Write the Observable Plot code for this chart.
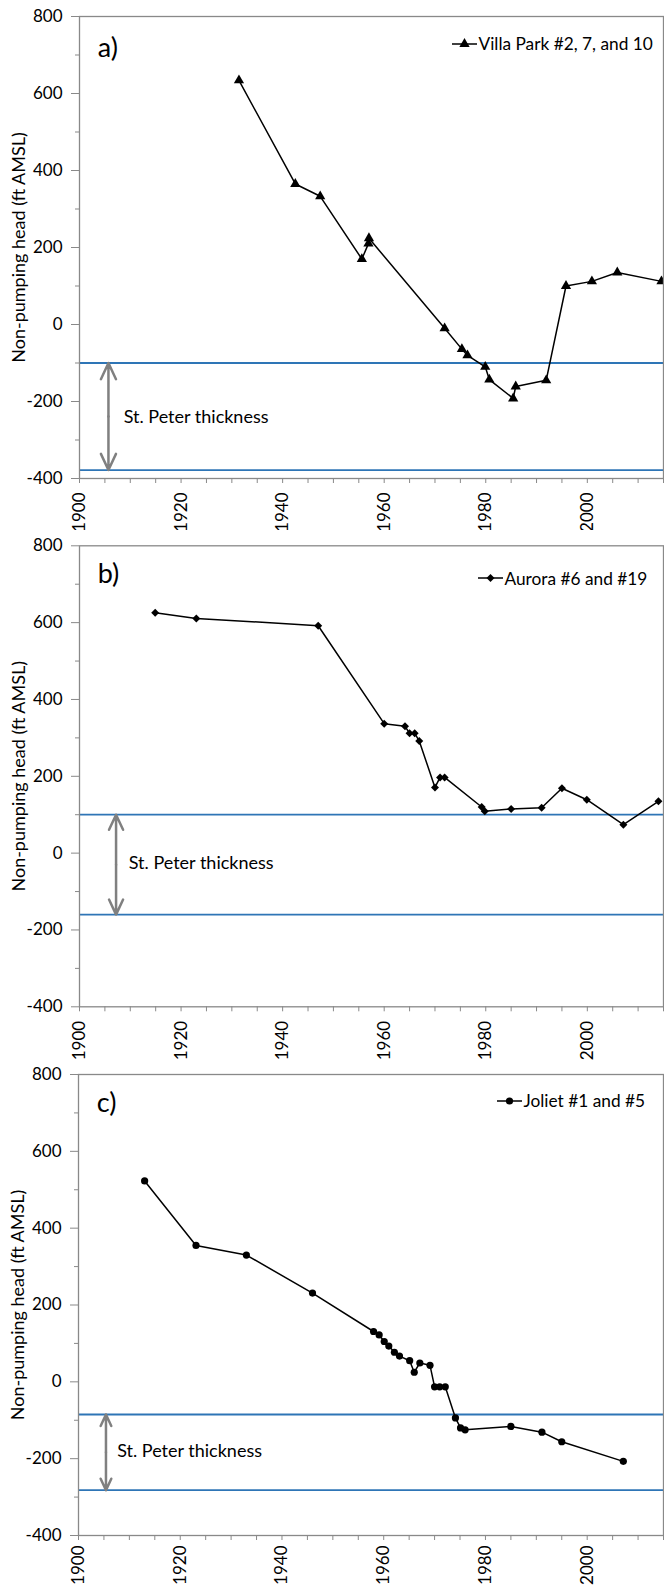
<!DOCTYPE html>
<html><head><meta charset="utf-8">
<script src="https://cdn.jsdelivr.net/npm/d3@7"></script>
<script src="https://cdn.jsdelivr.net/npm/@observablehq/plot@0.6"></script>
<style>
body{margin:0;background:#fff;font-family:Lato, "Open Sans", sans-serif;}
#wrap{width:664px;}
.panel{position:relative;width:664px;}
.panel svg{display:block;}
.legend{position:absolute;font-family:Lato, "Open Sans", sans-serif;font-size:17.3px;white-space:nowrap;line-height:1;display:flex;align-items:center;color:#000;}
.legend svg{display:inline-block;overflow:visible;}
</style></head><body><div id="wrap"></div>
<script>
// ---- data ----
const villaYear = [1931.4, 1942.5, 1947.4, 1955.6, 1956.9, 1957.0, 1971.9, 1975.3, 1976.4, 1979.9, 1980.7, 1985.4, 1985.9, 1991.9, 1995.8, 2000.9, 2005.9, 2014.6];
const villaHead = [634, 365, 333, 170, 210, 224, -10, -64, -80, -110, -143, -192, -161, -145, 100, 112, 135, 112];

const auroraYear = [1914.9, 1923.0, 1947.0, 1960.0, 1964.1, 1965.0, 1966.0, 1966.9, 1970.0, 1971.0, 1971.9, 1979.2, 1979.8, 1985.0, 1991.0, 1995.0, 1999.9, 2007.1, 2014.0];
const auroraHead = [626, 611, 592, 337, 330, 312, 312, 292, 171, 197, 197, 120, 109, 115, 118, 169, 139, 74, 135];

const jolietYear = [1913.0, 1923.1, 1933.0, 1946.0, 1958.0, 1959.1, 1960.1, 1961.0, 1962.1, 1963.1, 1965.1, 1966.0, 1967.1, 1969.1, 1970.0, 1971.0, 1972.1, 1974.1, 1975.1, 1976.0, 1985.0, 1991.1, 1995.0, 2007.1];
const jolietHead = [523, 355, 330, 231, 131, 122, 105, 93, 77, 67, 55, 25, 49, 43, -13, -13, -13, -94, -120, -125, -116, -131, -156, -207];

const seriesNames = ["Villa Park #2, 7, and 10", "Aurora #6 and #19", "Joliet #1 and #5"];
const panelLabels = ["a)", "b)", "c)"];
const stPeterTop = [-100, 100, -85];
const stPeterBottom = [-378, -160, -282];
const arrowYear = [1905.7, 1907.2, 1905.4];
const noteYear = [1908.7, 1909.7, 1907.6];
const noteHead = [-240, -26, -180];
const labelYear = [1903.6, 1903.6, 1903.6];
const labelHead = [716, 725, 724];
const yMajorTicks = [-400, -200, 0, 200, 400, 600, 800];
const yMinorTicks = [-300, -100, 100, 300, 500, 700];
const xMajorTicks = [1900, 1920, 1940, 1960, 1980, 2000];
const xMinorTicks = d3.range(1900, 2016, 5);

// ---- layout ----
const layouts = [
  {height: 530, marginTop: 16, marginBottom: 52, marginLeft: 79, legendX: 451.5, legendY: 44, symbol: "triangle", r: 3.8, xPad: 14},
  {height: 530, marginTop: 15.3, marginBottom: 53.7, marginLeft: 79, legendX: 477.5, legendY: 48.3, symbol: "diamond2", r: 3.6, xPad: 14},
  {height: 525, marginTop: 14, marginBottom: 50, marginLeft: 78, legendX: 496.5, legendY: 41, symbol: "circle", r: 3.6, xPad: 10}
];
const years = [villaYear, auroraYear, jolietYear];
const heads = [villaHead, auroraHead, jolietHead];
const symbols = {triangle: d3.symbolTriangle, diamond2: d3.symbolDiamond2, circle: d3.symbolCircle};

const GRAY = "#898989", BLUE = "#2E75B6";
const FONT = "Lato, 'Open Sans', sans-serif";
const wrap = document.getElementById("wrap");

layouts.forEach((L, i) => {
  const data = years[i].map((x, j) => ({year: x, head: heads[i][j]}));
  const top = stPeterTop[i], bot = stPeterBottom[i], mid = (top + bot) / 2;
  const chart = Plot.plot({
    width: 664, height: L.height,
    marginTop: L.marginTop, marginBottom: L.marginBottom, marginLeft: L.marginLeft, marginRight: 1,
    x: {domain: [1900, 2015]},
    y: {domain: [-400, 800]},
    style: {fontFamily: FONT, fontSize: "17px", background: "white", color: "black", overflow: "visible"},
    marks: [
      Plot.ruleY([top, bot], {stroke: BLUE, strokeWidth: 1.8}),
      Plot.arrow([{x: arrowYear[i], y1: mid, y2: top}, {x: arrowYear[i], y1: mid, y2: bot}],
        {x1: "x", x2: "x", y1: "y1", y2: "y2", stroke: "#808080", strokeWidth: 2.5, headLength: 11, headAngle: 50}),
      Plot.text([{x: noteYear[i], y: noteHead[i]}], {x: "x", y: "y", text: () => "St. Peter thickness", textAnchor: "start", lineAnchor: "middle", fontSize: 18, fill: "black"}),
      Plot.text([{x: labelYear[i], y: labelHead[i]}], {x: "x", y: "y", text: () => panelLabels[i], textAnchor: "start", lineAnchor: "middle", fontSize: 27, fill: "black"}),
      Plot.line(data, {x: "year", y: "head", stroke: "black", strokeWidth: 1.5}),
      Plot.dot(data, {x: "year", y: "head", symbol: L.symbol, r: L.r, fill: "black", stroke: "none"}),
      Plot.frame({stroke: GRAY, strokeWidth: 1.3}),
      Plot.axisY({ticks: yMajorTicks, tickSize: 8, tickPadding: 9, stroke: GRAY, fill: "black", fontSize: 17, label: null, tickFormat: d => String(d)}),
      Plot.axisY({ticks: yMinorTicks, tickSize: 4, stroke: GRAY, fill: "none", label: null}),
      Plot.axisX({ticks: xMinorTicks, tickSize: 5, stroke: GRAY, fill: "none", label: null}),
      Plot.axisX({ticks: xMajorTicks, tickSize: 0, tickPadding: L.xPad, tickRotate: -90, fill: "black", fontSize: 17, label: null, tickFormat: d => String(d)}),
      Plot.text(["Non-pumping head (ft AMSL)"], {frameAnchor: "left", text: d => d, rotate: -90, dx: -60.5, fontSize: 18, textAnchor: "middle", lineAnchor: "middle", fill: "black"})
    ]
  });
  const panel = document.createElement("div");
  panel.className = "panel";
  panel.style.height = L.height + "px";
  panel.appendChild(chart);

  // legend (line + marker + name)
  const lg = document.createElement("div");
  lg.className = "legend";
  lg.style.left = L.legendX + "px";
  lg.style.top = (L.legendY - 10) + "px";
  lg.style.height = "20px";
  const sym = d3.symbol(symbols[L.symbol], Math.PI * L.r * L.r)();
  lg.innerHTML = `<svg width="26" height="20" viewBox="0 0 26 20"><line x1="0" x2="25" y1="10" y2="10" stroke="black" stroke-width="1.5"/><path d="${sym}" transform="translate(12.5,10)" fill="black"/></svg><span style="margin-left:1px">${seriesNames[i]}</span>`;
  panel.appendChild(lg);
  wrap.appendChild(panel);
});
</script></body></html>
